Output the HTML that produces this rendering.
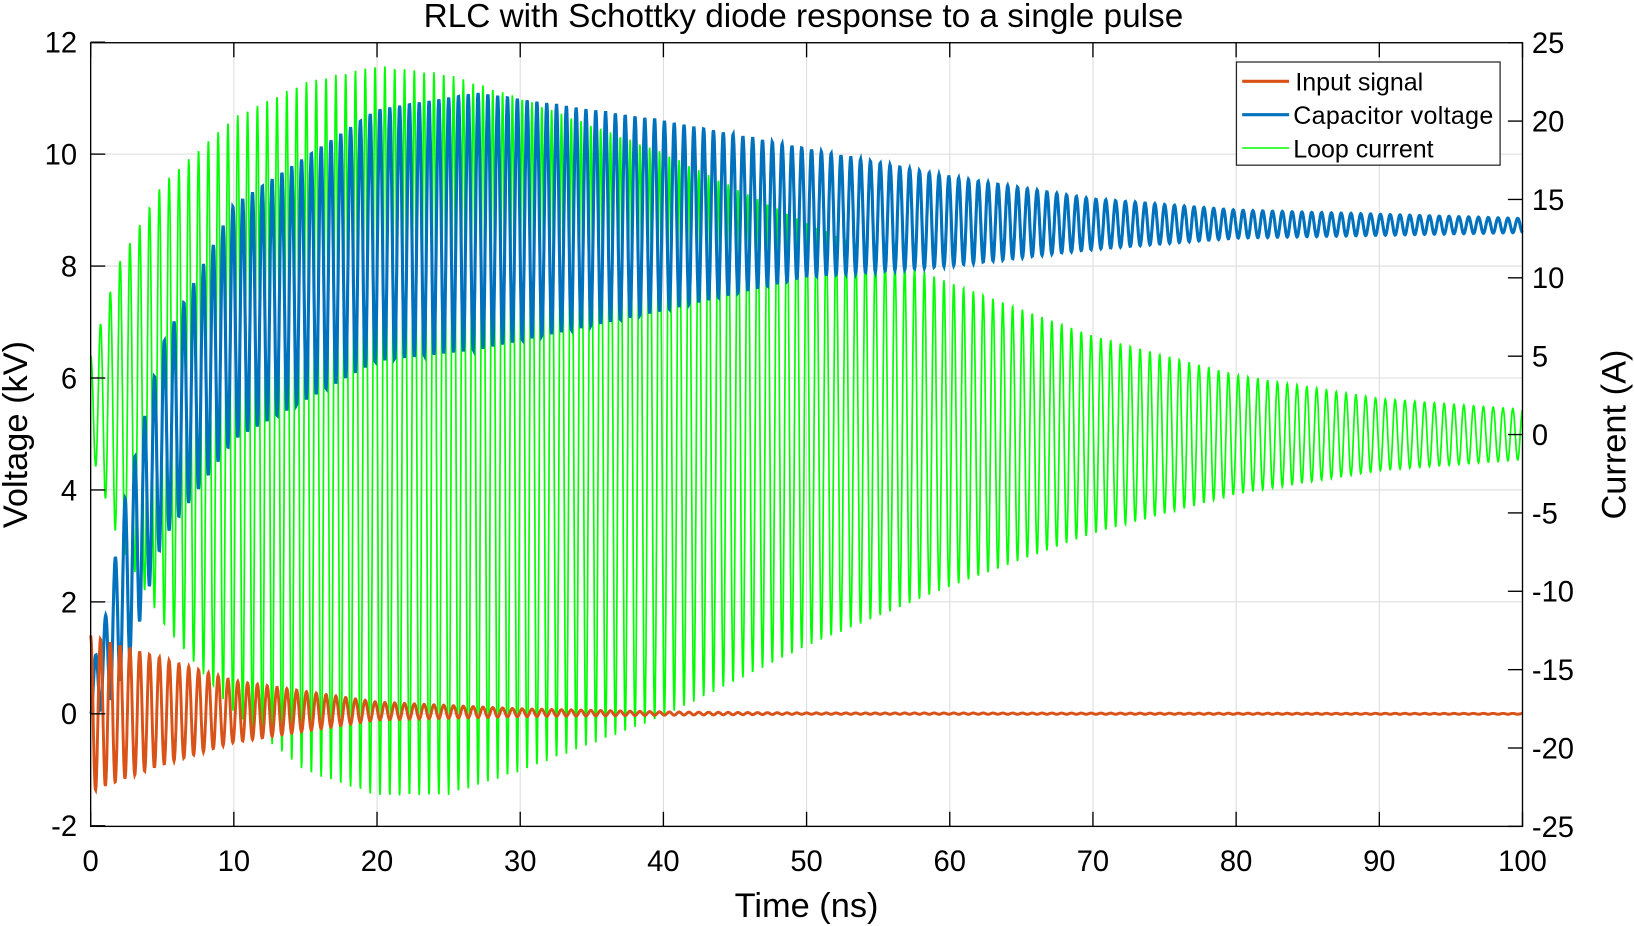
<!DOCTYPE html>
<html><head><meta charset="utf-8"><style>
html,body{margin:0;padding:0;background:#fff;}
svg{display:block;font-family:"Liberation Sans",Arial,sans-serif;}
</style></head><body>
<svg id="s" width="1634" height="926" viewBox="0 0 1568 888.6" preserveAspectRatio="none" xmlns="http://www.w3.org/2000/svg">
<rect width="1568" height="888.6" fill="#fff"/>
<g id="grid" stroke="#dcdcdc" stroke-width="1"></g>
<g id="series"></g>
<g id="axes" stroke="#000" stroke-width="1.3" fill="none"></g>
<g id="labels" font-size="28" fill="#000"></g>
<text x="771" y="26" font-size="32" text-anchor="middle">RLC with Schottky diode response to a single pulse</text>
<text x="774" y="880" font-size="33" text-anchor="middle">Time (ns)</text>
<text transform="translate(26,417) rotate(-90)" font-size="33" text-anchor="middle">Voltage (kV)</text>
<text transform="translate(1560,417) rotate(-90)" font-size="33" text-anchor="middle">Current (A)</text>
<g>
<rect x="1186.5" y="59.5" width="253" height="99" fill="#fff" stroke="#262626" stroke-width="1.2"/>
<line x1="1192" y1="78" x2="1237" y2="78" stroke="#D95319" stroke-width="3"/>
<line x1="1192" y1="110" x2="1237" y2="110" stroke="#0072BD" stroke-width="3"/>
<line x1="1192" y1="142" x2="1237" y2="142" stroke="#00FF00" stroke-width="1.5"/>
<text x="1243" y="87" font-size="24">Input signal</text>
<text x="1241" y="119" font-size="24" textLength="192">Capacitor voltage</text>
<text x="1241" y="151" font-size="24">Loop  current</text>
</g>
</svg>
<script>
const X0=87,X1=1461,Y0=41,Y1=793;
const xs=t=>X0+t*(X1-X0)/100;
const yv=v=>685-v*53.71;
const yi=a=>417-a*15.04;
const ns="http://www.w3.org/2000/svg";
function el(p,n,a,txt){const e=document.createElementNS(ns,n);for(const k in a)e.setAttribute(k,a[k]);if(txt!==undefined)e.textContent=txt;p.appendChild(e);return e;}
const grid=document.getElementById('grid'),axes=document.getElementById('axes'),lab=document.getElementById('labels');
for(let t=10;t<100;t+=10){el(grid,'line',{x1:xs(t),y1:Y0,x2:xs(t),y2:Y1});}
for(let v=0;v<12;v+=2){el(grid,'line',{x1:X0,y1:yv(v),x2:X1,y2:yv(v)});}
el(axes,'rect',{x:X0,y:Y0,width:X1-X0,height:Y1-Y0});
for(let t=0;t<=100;t+=10){el(axes,'line',{x1:xs(t),y1:Y1,x2:xs(t),y2:Y1-14});el(axes,'line',{x1:xs(t),y1:Y0,x2:xs(t),y2:Y0+14});
 el(lab,'text',{x:xs(t),y:836,'text-anchor':'middle'},t);}
for(let v=-2;v<=12;v+=2){el(axes,'line',{x1:X0,y1:yv(v),x2:X0+14,y2:yv(v)});el(lab,'text',{x:74,y:yv(v)+10,'text-anchor':'end'},v);}
for(let a=-25;a<=25;a+=5){el(axes,'line',{x1:X1,y1:yi(a),x2:X1-14,y2:yi(a)});el(lab,'text',{x:1470,y:yi(a)+10},a);}
function interp(pts,t){for(let i=1;i<pts.length;i++){if(t<=pts[i][0]){const[a,b]=[pts[i-1],pts[i]];return a[1]+(b[1]-a[1])*(t-a[0])/(b[0]-a[0]);}}return pts[pts.length-1][1];}
const P=0.685,w=2*Math.PI/P;
const gA=[[0,3],[1,6],[2,9],[5,14],[10,19],[15,22],[20,23.3],[25,23],[30,21.5],[40,18],[50,13.5],[60,9.7],[70,6.3],[80,3.8],[90,2.3],[100,1.6]];
const gC=[[0,2],[5,2],[15,0.5],[25,0],[100,0]];
const bT=[[0,0.7],[1,1.7],[2.5,4],[5,6.6],[10,9.1],[20,10.8],[27,11.1],[40,10.6],[50,10.1],[60,9.6],[70,9.2],[80,9.0],[100,8.85]];
const bB=[[0,0],[1,0.1],[2.5,0.8],[5,3.1],[10,4.9],[20,6.3],[27,6.5],[40,7.2],[50,7.8],[60,8.0],[70,8.3],[80,8.5],[100,8.6]];
const oA=[[0,1.4],[1,1.3],[5,0.95],[10,0.55],[20,0.16],[30,0.07],[40,0.03],[50,0.012],[100,0.008]];
const oC=[[0,0],[5,0.04],[10,0.04],[20,0.05],[30,0.02],[40,0.005],[100,0]];
function path(f){let d='';const N=4000;for(let i=0;i<=N;i++){const t=100*i/N;const [x,y]=f(t);d+=(i?'L':'M')+x.toFixed(1)+' '+y.toFixed(1);}return d;}
const S=document.getElementById('series');
el(S,'path',{d:path(t=>[xs(t),yi(interp(gC,t)+interp(gA,t)*Math.cos(w*t))]),stroke:'#00FF00','stroke-width':1.6,fill:'none'});
el(S,'path',{d:path(t=>{const a=interp(bT,t),b=interp(bB,t);return [xs(t),yv((a+b)/2+(a-b)/2*Math.sin(w*t-Math.PI/2))];}),stroke:'#0072BD','stroke-width':3,fill:'none'});
el(S,'path',{d:path(t=>[xs(t),yv(interp(oC,t)+interp(oA,t)*Math.cos(w*t))]),stroke:'#D95319','stroke-width':2.8,fill:'none'});
</script>
</body></html>
